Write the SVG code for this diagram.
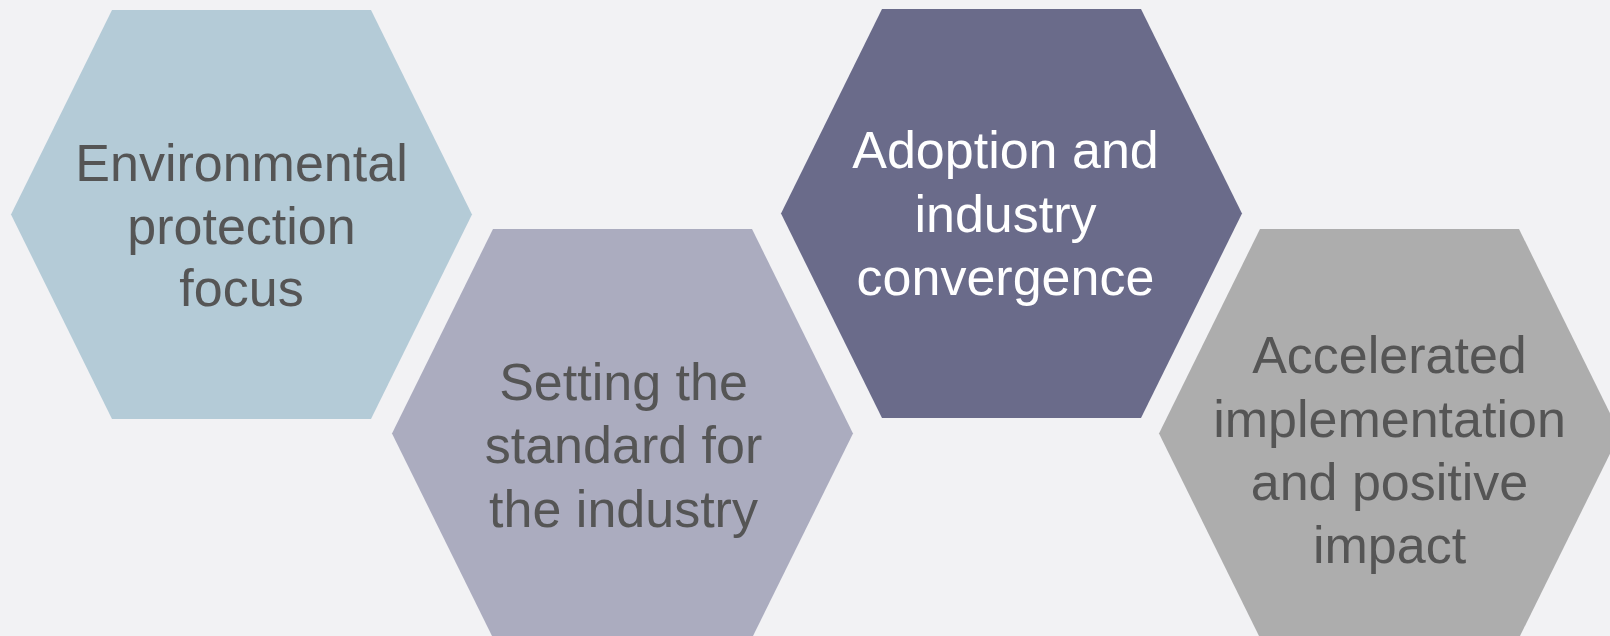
<svg xmlns="http://www.w3.org/2000/svg" width="1610" height="636" viewBox="0 0 1610 636">
<style>
text{font-family:"Liberation Sans",Arial,sans-serif;font-size:52px;text-anchor:middle;fill:#555555}
.w{fill:#FFFFFF}
</style>
<rect width="1610" height="636" fill="#F2F2F4"/>
<g id="connectors"/>
<g id="node1">
<polygon points="11,214.5 112,10 371,10 472,214.5 371,419 112,419" fill="#B4CBD7"/>
<text x="241.5" y="181">Environmental</text>
<text x="241.5" y="244">protection</text>
<text x="241.5" y="306">focus</text>
</g>
<g id="node2">
<polygon points="392,433.5 493,229 752,229 853,433.5 752,638 493,638" fill="#ABACBF"/>
<text x="623.5" y="400">Setting the</text>
<text x="623.5" y="463">standard for</text>
<text x="623.5" y="527">the industry</text>
</g>
<g id="node3">
<polygon points="781,213.5 882,9 1141,9 1242,213.5 1141,418 882,418" fill="#6A6B8A"/>
<text class="w" x="1005.5" y="168">Adoption and</text>
<text class="w" x="1005.5" y="232">industry</text>
<text class="w" x="1005.5" y="295">convergence</text>
</g>
<g id="node4">
<polygon points="1159,433.5 1260,229 1519,229 1620,433.5 1519,638 1260,638" fill="#ADADAD"/>
<text x="1389.5" y="373">Accelerated</text>
<text x="1389.5" y="437">implementation</text>
<text x="1389.5" y="500">and positive</text>
<text x="1389.5" y="563">impact</text>
</g>
</svg>
